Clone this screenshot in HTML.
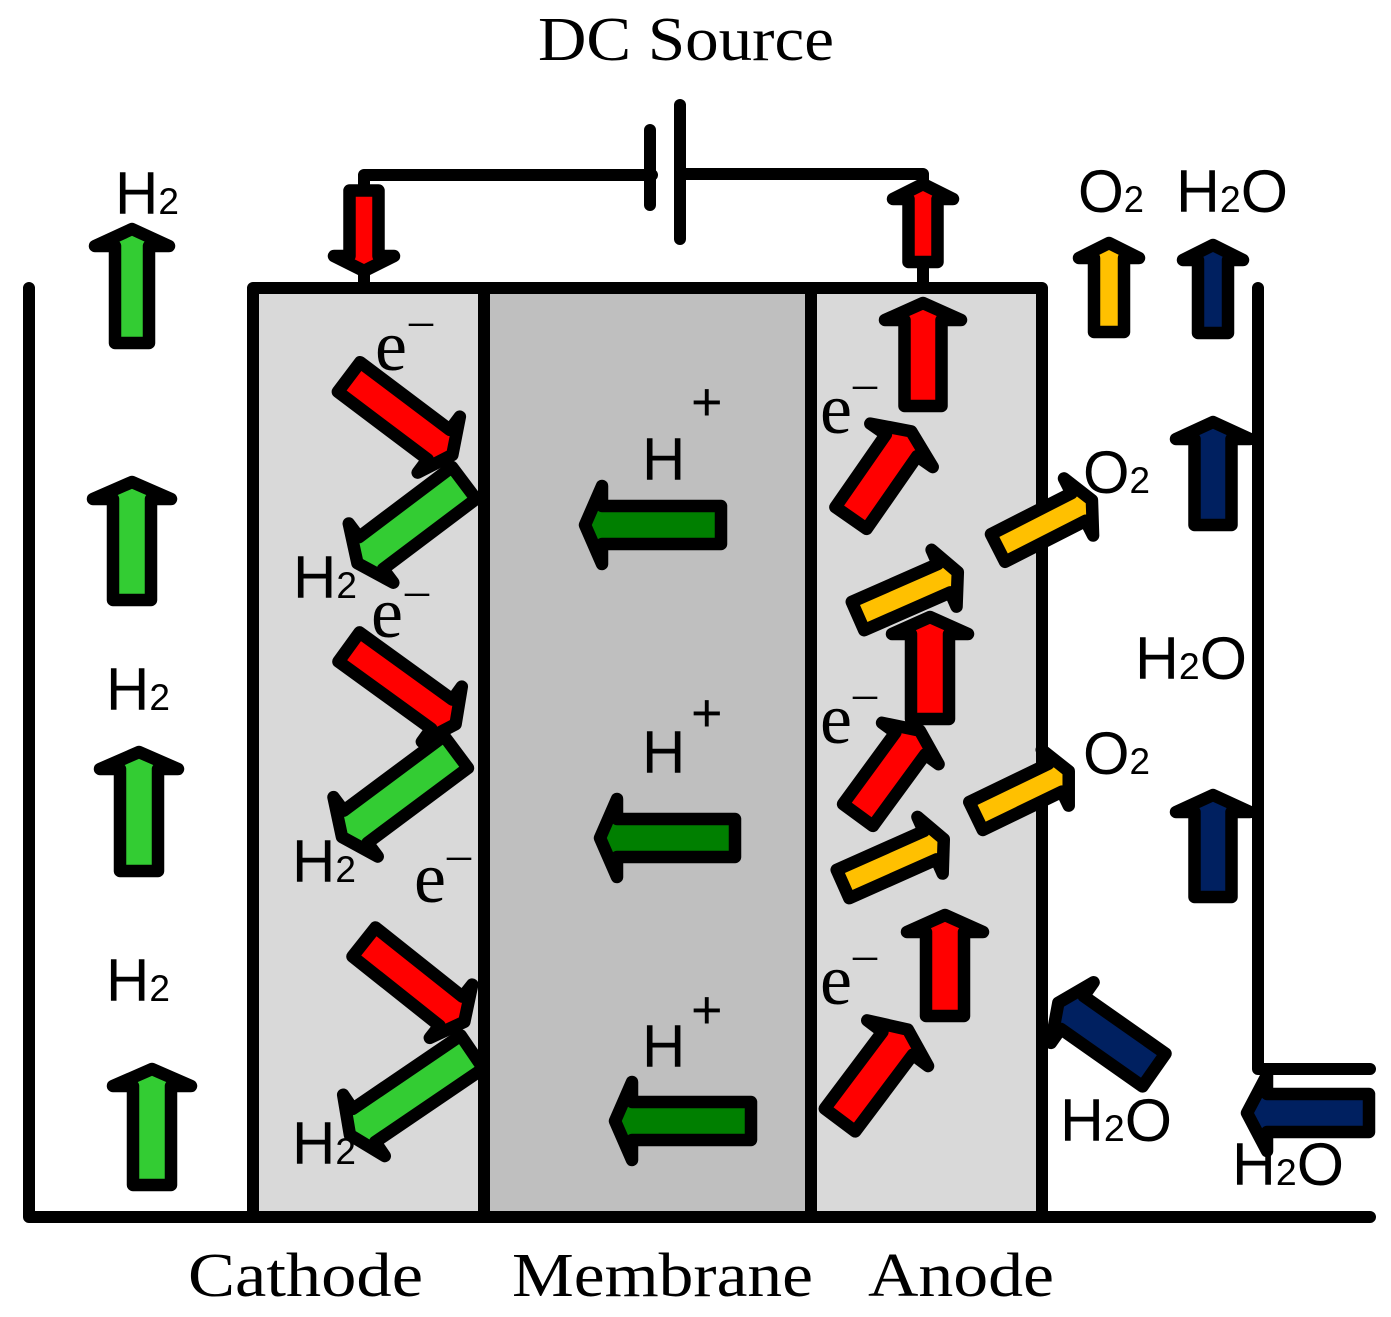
<!DOCTYPE html>
<html lang="en">
<head>
<meta charset="utf-8">
<title>PEM electrolyzer diagram</title>
<style>
html,body{margin:0;padding:0;background:#fff}
svg{display:block}
.a polygon{stroke:#000;stroke-width:12.5;stroke-linejoin:round}
.l{stroke:#000;stroke-width:12;stroke-linecap:round;stroke-linejoin:round;fill:none}
.s{font-family:"Liberation Serif",serif;fill:#000}
.n{font-family:"Liberation Sans",sans-serif;fill:#000}
</style>
</head>
<body>
<svg width="1391" height="1317" viewBox="0 0 1391 1317" xmlns="http://www.w3.org/2000/svg">
<rect width="1391" height="1317" fill="#fff"/>

<!-- cell -->
<rect x="253" y="288" width="231" height="929" fill="#d9d9d9"/>
<rect x="484" y="288" width="327" height="929" fill="#bfbfbf"/>
<rect x="811" y="288" width="231" height="929" fill="#d9d9d9"/>

<!-- wires, battery -->
<path class="l" d="M364 190V175H652"/>
<path class="l" d="M683 174H923V184"/>
<path class="l" d="M650 130V205"/>
<path class="l" d="M680 105V239"/>
<path class="l" d="M364 271V288"/>
<path class="l" d="M923 261V288"/>

<!-- outer walls -->
<path class="l" d="M29 288V1217H1370"/>
<path class="l" d="M1258 288V1069H1370"/>

<!-- cell borders -->
<path class="l" d="M253 288H1042V1217H253Z"/>
<path class="l" d="M484 288V1217"/>
<path class="l" d="M811 288V1217"/>

<g class="a">
<!-- left green -->
<g fill="#33cc33">
<polygon transform="translate(132,343) rotate(-90)" points="0,-17 97,-17 97,-37 114,0 97,37 97,17 0,17"/>
<polygon transform="translate(132,600) rotate(-90)" points="0,-19 101,-19 101,-39 118,0 101,39 101,19 0,19"/>
<polygon transform="translate(139,871) rotate(-90)" points="0,-19 102,-19 102,-39 119,0 102,39 102,19 0,19"/>
<polygon transform="translate(152,1185) rotate(-90)" points="0,-19 99,-19 99,-39 116,0 99,39 99,19 0,19"/>
</g>
<!-- terminal reds and anode reds -->
<g fill="#ff0000">
<polygon transform="translate(364,190.500) rotate(90)" points="0,-14.500 65.500,-14.500 65.500,-30 80.500,0 65.500,30 65.500,14.500 0,14.500"/>
<polygon transform="translate(923,262) rotate(-90)" points="0,-14.500 63,-14.500 63,-30 78,0 63,30 63,14.500 0,14.500"/>
<polygon transform="translate(923,406) rotate(-90)" points="0,-18.500 86,-18.500 86,-38 103,0 86,38 86,18.500 0,18.500"/>
<polygon transform="translate(930,719) rotate(-90)" points="0,-19 85,-19 85,-38 102,0 85,38 85,19 0,19"/>
<polygon transform="translate(945,1016) rotate(-90)" points="0,-19 84,-19 84,-38 101,0 84,38 84,19 0,19"/>
<polygon transform="translate(851,518) rotate(-55.200)" points="0,-19 88.500,-19 88.500,-38 105.500,0 88.500,38 88.500,19 0,19"/>
<polygon transform="translate(858,815) rotate(-53.800)" points="0,-18.500 88.600,-18.500 88.600,-35 104.600,0 88.600,35 88.600,18.500 0,18.500"/>
<polygon transform="translate(840,1120) rotate(-53.100)" points="0,-19 96,-19 96,-38 113,0 96,38 96,19 0,19"/>
</g>
<!-- yellow -->
<g fill="#ffc000">
<polygon transform="translate(1109,332) rotate(-90)" points="0,-15 74,-15 74,-30 89,0 74,30 74,15 0,15"/>
<polygon transform="translate(998,548) rotate(-27)" points="0,-15.500 90.400,-15.500 90.400,-32 105.400,0 90.400,32 90.400,15.500 0,15.500"/>
<polygon transform="translate(858,616) rotate(-23.700)" points="0,-15.500 94,-15.500 94,-31 109,0 94,31 94,15.500 0,15.500"/>
<polygon transform="translate(976,816) rotate(-25.800)" points="0,-15.500 88,-15.500 88,-31 103,0 88,31 88,15.500 0,15.500"/>
<polygon transform="translate(843,884) rotate(-24)" points="0,-15.500 95.300,-15.500 95.300,-31 110.300,0 95.300,31 95.300,15.500 0,15.500"/>
</g>
<!-- navy -->
<g fill="#002060">
<polygon transform="translate(1213,333) rotate(-90)" points="0,-15 73,-15 73,-30 88,0 73,30 73,15 0,15"/>
<polygon transform="translate(1213,525) rotate(-90)" points="0,-18.500 86,-18.500 86,-37 103,0 86,37 86,18.500 0,18.500"/>
<polygon transform="translate(1213,897) rotate(-90)" points="0,-18.500 85,-18.500 85,-37 102,0 85,37 85,18.500 0,18.500"/>
<polygon transform="translate(1154,1070) rotate(215.100)" points="0,-20 99.900,-20 99.900,-37 116.900,0 99.900,37 99.900,20 0,20"/>
<polygon transform="translate(1369,1113) rotate(180)" points="0,-19 102,-19 102,-38 122,0 102,38 102,19 0,19"/>
</g>
<!-- cathode diagonals -->
<g>
<polygon fill="#ff0000" transform="translate(349,377) rotate(37)" points="0,-18.500 112.400,-18.500 112.400,-35 129.400,0 112.400,35 112.400,18.500 0,18.500"/>
<polygon fill="#33cc33" transform="translate(464,483) rotate(143)" points="0,-20 116.400,-20 116.400,-37 133.400,0 116.400,37 116.400,20 0,20"/>
<polygon fill="#ff0000" transform="translate(349,647) rotate(35.900)" points="0,-18 114.600,-18 114.600,-34 131.600,0 114.600,34 114.600,18 0,18"/>
<polygon fill="#33cc33" transform="translate(456,752) rotate(143.300)" points="0,-20 125.200,-20 125.200,-37 142.200,0 125.200,37 125.200,20 0,20"/>
<polygon fill="#ff0000" transform="translate(364,942) rotate(38.500)" points="0,-18.500 111.200,-18.500 111.200,-34 128.200,0 111.200,34 111.200,18.500 0,18.500"/>
<polygon fill="#33cc33" transform="translate(472,1052) rotate(145.800)" points="0,-20 130.600,-20 130.600,-37 147.600,0 130.600,37 130.600,20 0,20"/>
</g>
<!-- membrane -->
<g fill="#007f00">
<polygon transform="translate(721,525) rotate(180)" points="0,-19 119,-19 119,-39 136,0 119,39 119,19 0,19"/>
<polygon transform="translate(735,838) rotate(180)" points="0,-19 118,-19 118,-39 135,0 118,39 118,19 0,19"/>
<polygon transform="translate(751,1121) rotate(180)" points="0,-19 119,-19 119,-39 136,0 119,39 119,19 0,19"/>
</g>
</g>

<!-- serif titles -->
<g class="s" font-size="62">
<text x="538" y="60" textLength="296" lengthAdjust="spacingAndGlyphs">DC Source</text>
<text x="188" y="1296" textLength="235" lengthAdjust="spacingAndGlyphs">Cathode</text>
<text x="512" y="1296" textLength="301" lengthAdjust="spacingAndGlyphs">Membrane</text>
<text x="868" y="1296" textLength="186" lengthAdjust="spacingAndGlyphs">Anode</text>
</g>

<!-- chemical labels -->
<g class="n" font-size="60">
<text x="115" y="214">H<tspan font-size="37">2</tspan></text>
<text x="106" y="710">H<tspan font-size="37">2</tspan></text>
<text x="106" y="1001">H<tspan font-size="37">2</tspan></text>
<text x="293" y="598">H<tspan font-size="37">2</tspan></text>
<text x="292" y="882">H<tspan font-size="37">2</tspan></text>
<text x="292" y="1164">H<tspan font-size="37">2</tspan></text>
<text x="1078" y="212" textLength="66" lengthAdjust="spacingAndGlyphs">O<tspan font-size="37">2</tspan></text>
<text x="1083" y="493" textLength="67" lengthAdjust="spacingAndGlyphs">O<tspan font-size="37">2</tspan></text>
<text x="1083" y="774" textLength="67" lengthAdjust="spacingAndGlyphs">O<tspan font-size="37">2</tspan></text>
<text x="1176" y="212" textLength="112" lengthAdjust="spacingAndGlyphs">H<tspan font-size="37">2</tspan>O</text>
<text x="1135" y="679" textLength="112" lengthAdjust="spacingAndGlyphs">H<tspan font-size="37">2</tspan>O</text>
<text x="1060" y="1141" textLength="112" lengthAdjust="spacingAndGlyphs">H<tspan font-size="37">2</tspan>O</text>
<text x="1232" y="1185" textLength="112" lengthAdjust="spacingAndGlyphs">H<tspan font-size="37">2</tspan>O</text>
<text x="642" y="480">H</text>
<text x="642" y="773">H</text>
<text x="642" y="1067">H</text>
<text x="691" y="420" font-size="54">+</text>
<text x="691" y="731" font-size="54">+</text>
<text x="691" y="1028" font-size="54">+</text>
</g>

<!-- electrons -->
<g class="s" font-size="72">
<text x="375" y="370">e</text>
<text x="371" y="637">e</text>
<text x="414" y="902">e</text>
<text x="820" y="433">e</text>
<text x="820" y="743">e</text>
<text x="820" y="1004">e</text>
</g>
<g class="s" font-size="48">
<text x="409" y="336">–</text>
<text x="405" y="606">–</text>
<text x="447" y="870">–</text>
<text x="853" y="399">–</text>
<text x="853" y="709">–</text>
<text x="853" y="970">–</text>
</g>
</svg>
</body>
</html>
